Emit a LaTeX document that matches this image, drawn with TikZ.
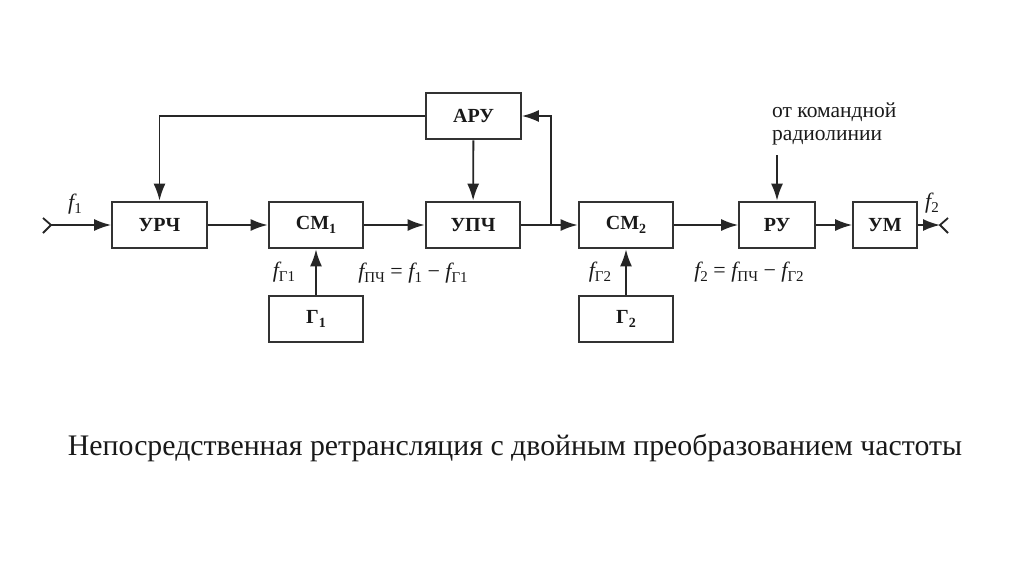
\documentclass[tikz,border=0pt]{standalone}
\usepackage{fontspec}
\setmainfont{Liberation Serif}
\usetikzlibrary{arrows.meta}
\newcommand{\sigf}[1]{{\itshape f}\raisebox{-0.4ex}{\fontsize{15}{15}\selectfont #1}}
\newcommand{\idx}[1]{\raisebox{-0.4ex}{\fontsize{14}{14}\selectfont #1}}
\begin{document}
\begin{tikzpicture}[
	x=1pt, y=-1pt,
	every node/.style={text=black!90},
	blockbox/.style={shape=rectangle, draw=black!80, line width=2.2pt, inner sep=0pt, minimum height=46.5pt, font=\fontsize{20}{20}\selectfont\bfseries},
	widebox/.style={blockbox, minimum width=94.5pt},
	siglabel/.style={font=\fontsize{22}{22}\selectfont},
	sigline/.style={draw=black!85, line width=1.8pt, -{Latex[length=17pt,width=12pt]}},
	antline/.style={draw=black!85, line width=1.8pt},
]
\useasboundingbox (0,0) rectangle (1024,574);
\node[widebox] (urch) at (159.5,225) {УРЧ};
\node[widebox] (sm1) at (316,225) {СМ\idx{1}};
\node[widebox] (upch) at (473,225) {УПЧ};
\node[widebox] (aru) at (473.5,116) {АРУ};
\node[widebox] (sm2) at (626,225) {СМ\idx{2}};
\node[widebox] (g1) at (316,319) {Г\idx{1}};
\node[widebox] (g2) at (626,319) {Г\idx{2}};
\node[blockbox, minimum width=75.5pt] (ru) at (777,225) {РУ};
\node[blockbox, minimum width=63.5pt] (um) at (885,225) {УМ};

\coordinate (antin) at (51,225);
\coordinate (antinup) at (43,218);
\coordinate (antindown) at (43,233);
\coordinate (antout) at (940,225);
\coordinate (antoutup) at (948,218);
\coordinate (antoutdown) at (948,233);
\coordinate (branch) at (551,225);
\coordinate (cmdin) at (777,155);

\draw[antline] (antinup) -- (antin) -- (antindown);
\draw[antline] (antoutup) -- (antout) -- (antoutdown);
\draw[sigline] (antin) -- (urch.west);
\draw[sigline] (urch) -- (sm1);
\draw[sigline] (sm1) -- (upch);
\draw[sigline] (upch) -- (sm2);
\draw[sigline] (sm2) -- (ru);
\draw[sigline] (ru) -- (um);
\draw[sigline] (um.east) -- (antout);
\draw[sigline] (g1) -- (sm1);
\draw[sigline] (g2) -- (sm2);
\draw[sigline] (aru) -- (upch);
\draw[sigline] (aru.west) -| (urch.north);
\draw[sigline] (branch) |- (aru.east);
\draw[sigline] (cmdin) -- (ru.north);

\node[siglabel] (f1) at (75,204) {\sigf{1}};
\node[siglabel] (f2) at (932,203) {\sigf{2}};
\node[siglabel] (fg1) at (284,272) {\sigf{Г1}};
\node[siglabel] (fg2) at (600,272) {\sigf{Г2}};
\node[siglabel] (fpch) at (413,273) {\sigf{ПЧ} = \sigf{1} − \sigf{Г1}};
\node[siglabel] (ftwo) at (749,272) {\sigf{2} = \sigf{ПЧ} − \sigf{Г2}};
\node[font=\fontsize{21.5}{23}\selectfont, align=left, anchor=west, inner sep=0pt] (cmd) at (772,123.5) {от командной\\радиолинии};
\node[font=\fontsize{29.8}{30}\selectfont] (caption) at (515,448) {Непосредственная ретрансляция с двойным преобразованием частоты};
\end{tikzpicture}
\end{document}
